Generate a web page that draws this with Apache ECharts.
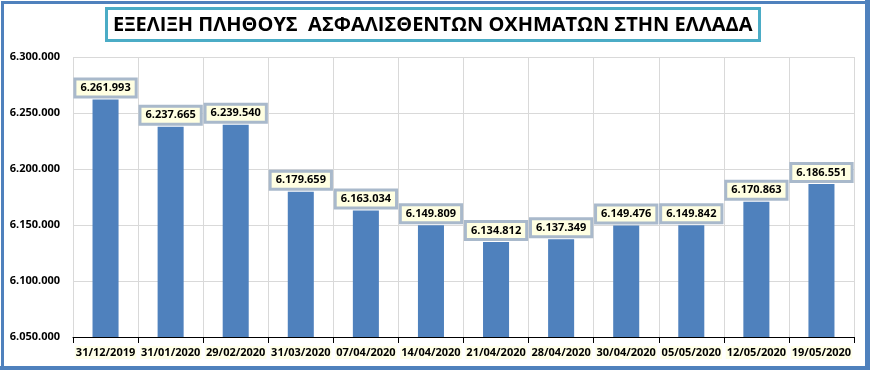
<!DOCTYPE html>
<html>
<head>
<meta charset="utf-8">
<script src="https://cdn.jsdelivr.net/npm/echarts@6/dist/echarts.min.js"></script>
<style>
html,body{margin:0;padding:0;background:#fff;}
#chart{width:870px;height:370px;}
</style>
</head>
<body>
<div id="chart"></div>
<script>
var titleText = 'ΕΞΕΛΙΞΗ ΠΛΗΘΟΥΣ  ΑΣΦΑΛΙΣΘΕΝΤΩΝ ΟΧΗΜΑΤΩΝ ΣΤΗΝ ΕΛΛΑΔΑ';
var categories = ['31/12/2019','31/01/2020','29/02/2020','31/03/2020','07/04/2020','14/04/2020','21/04/2020','28/04/2020','30/04/2020','05/05/2020','12/05/2020','19/05/2020'];
var values = [6261993, 6237665, 6239540, 6179659, 6163034, 6149809, 6134812, 6137349, 6149476, 6149842, 6170863, 6186551];
var yMin = 6050000, yMax = 6300000, yStep = 50000;

function fmt(v){ return String(v).replace(/\B(?=(\d{3})+(?!\d))/g,'.'); }

var chart = echarts.init(document.getElementById('chart'));
chart.setOption({
  backgroundColor:'#fff',
  animation:false,
  textStyle:{fontFamily:'Open Sans'},
  graphic:[{
    type:'rect', left:0, top:0, silent:true,
    shape:{x:1.5,y:1.5,width:865,height:365},
    style:{fill:'none', stroke:'#4F81BD', lineWidth:3}
  },{
    type:'rect', silent:true,
    shape:{x:0,y:366,width:870,height:4},
    style:{fill:'#4F81BD'}
  },{
    type:'rect', silent:true,
    shape:{x:865,y:0,width:5,height:370},
    style:{fill:'#4F81BD'}
  }],
  title:{
    text:titleText,
    left:106, top:8,
    padding:[7,7,6,7],
    borderColor:'#4BACC6', borderWidth:3,
    backgroundColor:'#fff',
    textStyle:{fontFamily:'Open Sans', fontWeight:'bold', fontSize:20, color:'#000'}
  },
  grid:{left:73, right:16, top:57, bottom:33, containLabel:false},
  xAxis:{
    type:'category', data:categories, boundaryGap:true,
    axisLine:{lineStyle:{color:'#000', width:1}},
    axisTick:{show:true, alignWithLabel:false, length:6, lineStyle:{color:'#000'}},
    splitLine:{show:true, interval:0, lineStyle:{color:'#D9D9D9'}},
    axisLabel:{interval:0, margin:9, fontSize:11, fontWeight:'bold', color:'#000', backgroundColor:'#FFFFE8', padding:[1,1,1,1]}
  },
  yAxis:{
    type:'value', min:yMin, max:yMax, interval:yStep,
    axisLine:{show:false}, axisTick:{show:false},
    splitLine:{lineStyle:{color:'#D9D9D9'}},
    axisLabel:{formatter:function(v){return fmt(v);}, fontSize:11, fontWeight:'bold', color:'#000', margin:13}
  },
  series:[{
    type:'bar', data:values, barWidth:'40%',
    itemStyle:{color:'#4F81BD'},
    label:{
      show:true, position:'top', distance:4,
      formatter:function(p){return fmt(p.value);},
      fontSize:11, fontWeight:'bold', color:'#000',
      backgroundColor:'#FFFFE2', borderColor:'#A9B9CB', borderWidth:3,
      padding:[2,4,2,4]
    }
  }]
});
</script>
</body>
</html>
